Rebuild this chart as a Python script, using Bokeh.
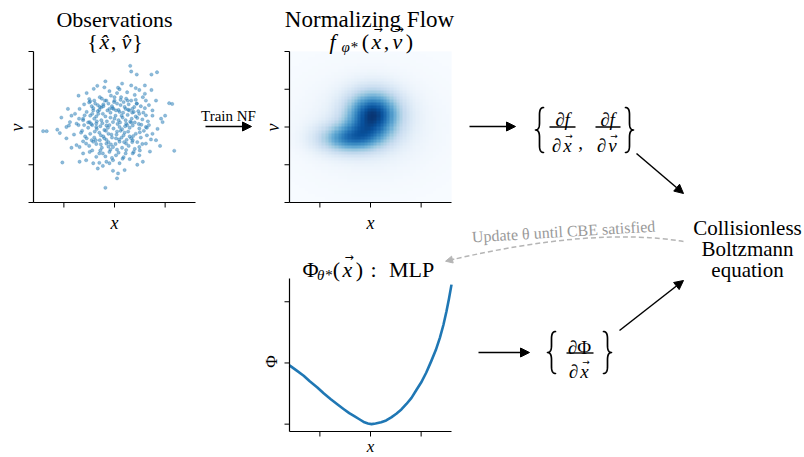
import numpy as np
from bokeh.plotting import figure
from bokeh.models import Range1d, Arrow, NormalHead, LinearColorMapper
from bokeh.palettes import Blues256
from bokeh.core.properties import value
from bokeh.embed import file_html
from bokeh.resources import INLINE

# ---------------- data ----------------
obs_x = [0.31, 0.33, 0.44, 0.84, 0.73, -0.18, -0.34, -0.41, 0.07, 0.10, 0.33, 0.42, 0.49, 0.73,
         -0.71, -0.50, -0.48, -0.29, -0.16, -0.07, 0.00, 0.13, 0.23, 0.33, 0.56, 0.62, 0.82, 1.08, 1.14,
         -0.92, -0.69, -0.78, -0.59, -0.42, -0.29, -0.23, -0.10, 0.03, 0.20, 0.29, 0.39, 0.49, 0.62, 0.75,
         0.92, 0.95, -1.41, -1.34, -1.13, -1.08, -0.95, -0.88, -0.75, -0.62, -0.49, -0.36, -0.26, -0.16,
         -0.03, 0.10, 0.23, 0.36, 0.49, 0.62, 0.75, 0.82, 0.72, -0.75, -0.69, -0.56, -0.42, -0.29, -0.16,
         -0.03, 0.10, 0.23, 0.36, 0.49, 0.62, -0.62, -0.49, -0.36, -0.23, -0.10, 0.03, 0.23, 0.36, 0.49,
         0.56, -0.69, -0.56, -0.42, -0.16, -0.03, 0.10, 1.18, -1.03, -0.33, -0.23, -0.10, 0.07, 0.20,
         -0.03, 0.05, -0.18, -0.90,
         -0.45, -0.38, -0.30, -0.22, -0.12, -0.05, 0.05, 0.12, 0.18, 0.28, 0.35, 0.44, 0.52, 0.60,
         -0.55, -0.48, -0.40, -0.32, -0.18, -0.08, 0.02, 0.10, 0.16, 0.26, 0.34, 0.42, 0.55, 0.66,
         -0.70, -0.60, -0.52, -0.44, -0.35, -0.28, -0.20, -0.10, -0.02, 0.06, 0.15, 0.22, 0.30, 0.40,
         0.48, 0.58, 0.68, -0.80, -0.66, -0.58, -0.48, -0.40, -0.30, -0.22, -0.12, -0.05, 0.04, 0.14,
         0.20, 0.30, 0.42, 0.52, 0.64, -0.62, -0.50, -0.36, -0.25, -0.12, -0.08, 0.02, 0.15, 0.28,
         0.40, 0.55, -0.44, -0.30, -0.18, 0.08, 0.18, 0.30, -0.52, -0.15, 0.08, 0.35, -0.25, 0.05,
         0.25, -0.10, 0.40, 0.60, -0.60, -0.85, 0.75, 0.85, 0.90, -0.95, -0.85, 0.70, 0.45, -0.30,
         0.15, -0.20, 0.60, -0.55, 1.00, -1.05, -0.40, 0.00, -0.02, 0.22, -0.35, 0.12, -0.45, 0.35,
         -0.20, 0.25,
         -0.42, -0.33, -0.26, -0.14, -0.04, 0.08, 0.17, 0.27, 0.38, 0.47, -0.46, -0.36, -0.24, -0.13,
         0.00, 0.11, 0.21, 0.31, 0.45, 0.53, -0.39, -0.27, -0.17, -0.06, 0.05, 0.18, 0.27, 0.37, 0.50,
         -0.55, -0.37, -0.27, -0.16, -0.07, 0.09, 0.19, 0.33, 0.45, -0.50, -0.33, -0.19, -0.01, 0.12,
         0.26, 0.42, -0.28, -0.12, 0.05, 0.22, 0.38, -0.62, -0.44, 0.57, 0.64, -0.08, 0.14, 0.33, -0.36,
         0.03, 0.24, -0.22, 0.44, -0.64, -0.71, 0.50, 0.68, -0.05, 0.16]
obs_y = [1.62, 1.47, 1.39, 1.45, 1.39, 1.21, 1.09, 1.01, 1.04, 1.00, 1.10, 1.03, 0.98, 0.98,
         0.83, 0.74, 0.68, 0.79, 0.70, 0.83, 0.79, 0.79, 0.75, 0.70, 0.79, 0.70, 0.70, 0.63, 0.61,
         0.48, 0.48, 0.35, 0.31, 0.44, 0.53, 0.35, 0.48, 0.44, 0.53, 0.44, 0.53, 0.35, 0.31, 0.44,
         0.22, 0.13, -0.11, -0.11, -0.07, -0.16, 0.00, 0.13, 0.09, 0.18, 0.13, 0.09, 0.18, 0.04,
         0.13, 0.00, 0.09, 0.04, -0.04, 0.00, -0.18, -0.35, -0.33, -0.48, -0.53, -0.44, -0.39, -0.35, -0.44,
         -0.53, -0.39, -0.44, -0.35, -0.53, -0.44, -0.70, -0.66, -0.79, -0.70, -0.66, -0.75, -0.61, -0.70, -0.75,
         -0.92, -0.92, -0.88, -0.96, -0.92, -0.88, -0.96, -0.63, -0.94, -1.10, -1.03, -0.96, -1.23, -1.14,
         -1.16, -1.36, -1.61, 0.04,
         0.55, 0.62, 0.45, 0.60, 0.62, 0.55, 0.62, 0.58, 0.66, 0.60, 0.48, 0.62, 0.55, 0.50,
         0.40, 0.30, 0.22, 0.35, 0.28, 0.38, 0.30, 0.40, 0.25, 0.32, 0.22, 0.28, 0.20, 0.15,
         0.22, 0.05, -0.02, 0.05, -0.05, 0.02, -0.08, 0.05, -0.04, 0.08, -0.06, 0.18, -0.02, 0.12,
         0.08, -0.10, 0.05, -0.20, -0.15, -0.25, -0.18, -0.28, -0.15, -0.25, -0.18, -0.28, -0.20, -0.28,
         -0.15, -0.25, -0.18, -0.28, -0.22, -0.38, -0.50, -0.45, -0.55, -0.40, -0.60, -0.45, -0.55, -0.50,
         -0.58, -0.45, -0.62, -0.70, -0.78, -0.68, -0.80, -0.85, 0.12, 0.15, 0.18, 0.38, 0.75, 0.90,
         0.92, 0.95, 0.85, 0.88, 0.60, 0.30, 0.30, -0.05, -0.50, -0.30, -0.55, -0.65, -1.00, -0.95,
         1.15, 1.05, 1.10, 0.90, 0.30, 0.25, 0.70, 0.70, 0.48, 0.48, 0.15, -0.10, -0.35, -0.40,
         -0.30, 0.05,
         0.50, 0.42, 0.52, 0.44, 0.50, 0.45, 0.38, 0.46, 0.40, 0.42, 0.08, 0.00, 0.10, -0.02,
         0.22, 0.12, 0.02, 0.14, 0.24, 0.06, -0.12, -0.22, -0.10, -0.20, -0.12, -0.22, -0.12, -0.24, -0.14,
         -0.30, -0.35, -0.46, -0.34, -0.46, -0.33, -0.40, -0.30, -0.40, 0.65, 0.58, 0.70, 0.66, 0.72,
         0.70, 0.72, -0.62, -0.52, -0.60, -0.70, -0.66, 0.22, 0.35, 0.38, -0.02, 0.25, 0.30, 0.12, 0.28,
         -0.30, -0.34, 0.55, 0.62, -0.10, 0.05, -0.62, 0.58, -0.82, -0.84]

# normalizing-flow density: two blobs plus a faint halo
blob_cx = [0.05, -0.42, 0.0]
blob_cy = [0.33, -0.30, 0.05]
blob_sx = [0.36, 0.42, 0.85]
blob_sy = [0.42, 0.26, 0.85]
blob_w = [1.00, 0.68, 0.12]

phi_x = [-1.60, -1.45, -1.32, -1.20, -1.05, -0.92, -0.79, -0.65, -0.52, -0.42, -0.32, -0.22, -0.12, -0.05,
         0.02, 0.10, 0.21, 0.31, 0.41, 0.51, 0.61, 0.71, 0.81, 0.90, 1.00, 1.10, 1.20, 1.29, 1.37, 1.44,
         1.50, 1.55, 1.60]
phi_y = [0.96, 0.87, 0.79, 0.70, 0.60, 0.50, 0.41, 0.32, 0.24, 0.18, 0.13, 0.08, 0.03, 0.01,
         0.00, 0.01, 0.03, 0.06, 0.11, 0.17, 0.24, 0.33, 0.43, 0.55, 0.68, 0.84, 1.03, 1.21, 1.41, 1.62,
         1.84, 2.05, 2.28]

x_ticks = [-1, 0, 1]
v_ticks = [-2, -1, 0, 1, 2]
phi_ticks = [0, 1, 2]
x_lim = (-1.6, 1.6)
v_lim = (-2.0, 2.0)
phi_lim = (-0.12, 2.38)

# ---------------- canvas ----------------
W, H = 804, 457
X0, X1 = 0, W
Y0, Y1 = 0, H
LIB = "Liberation Serif"

p = figure(width=W, height=H, x_range=Range1d(X0, X1), y_range=Range1d(Y1, Y0),
           output_backend="svg", toolbar_location=None,
           x_axis_location=None, y_axis_location=None, min_border=0)
p.grid.visible = False
p.outline_line_color = None
p.background_fill_color = "white"
p.border_fill_color = "white"

xr, yr, scale = {}, {}, {}


def panel(name, box, xlim, ylim):
    left, top, right, bottom = box
    kx = (xlim[1] - xlim[0]) / (right - left)
    ky = (ylim[1] - ylim[0]) / (top - bottom)
    xr[name] = Range1d(xlim[0] + (X0 - left) * kx, xlim[0] + (X1 - left) * kx)
    yr[name] = Range1d(ylim[0] + (Y1 - bottom) * ky, ylim[0] + (Y0 - bottom) * ky)
    scale[name] = (kx, -ky)


panel("obs", (33, 51, 195, 202), x_lim, v_lim)
panel("nf", (289, 51, 451, 202), x_lim, v_lim)
panel("mlp", (289, 278, 451, 431), x_lim, phi_lim)
p.extra_x_ranges = xr
p.extra_y_ranges = yr


def spines(name, xlim, ylim, xt, yt):
    kx, ky = scale[name]
    kw = dict(x_range_name=name, y_range_name=name, line_color="black")
    p.segment(x0=[xlim[0], xlim[0]], y0=[ylim[0], ylim[0]], x1=[xlim[0], xlim[1]], y1=[ylim[1], ylim[0]],
              line_width=1.2, **kw)
    p.segment(x0=xt, y0=[ylim[0]] * len(xt), x1=xt, y1=[ylim[0] - 5 * ky] * len(xt), line_width=1, **kw)
    p.segment(x0=[xlim[0]] * len(yt), y0=yt, x1=[xlim[0] - 5 * kx] * len(yt), y1=yt, line_width=1, **kw)


def txt(x, y, s, size=22, italic=False, color="black", align="center", baseline="alphabetic",
        angle=0.0, font=LIB):
    p.text(x=[x], y=[y], text=[s], text_font=value(font), text_font_size=value(f"{size}px"),
           text_font_style="italic" if italic else "normal", text_color=color,
           text_align=align, text_baseline=baseline, angle=angle)


def vec(x, y, s, size=22, lift=0.58):
    # italic letter with a small arrow accent above it
    txt(x, y, s, size=size, italic=True)
    txt(x + 1.5, y - lift * size, "\u2192", size=int(size * 0.5), baseline="middle", font="DejaVu Sans")


def arrow(x0, y0, x1, y1, color="black", size=9, lw=1.5):
    p.add_layout(Arrow(end=NormalHead(size=size, fill_color=color, line_color=color, line_width=1),
                       x_start=x0, y_start=y0, x_end=x1, y_end=y1, line_color=color, line_width=lw))


def brace(xc, ytop, ybot, w=8, left=True, lw=1.7):
    s = 1 if left else -1
    ym = (ytop + ybot) / 2
    r = min(w * 0.9, (ybot - ytop) * 0.18)
    t = np.linspace(0, 1, 12)

    def q(a, c, b):
        return ((1 - t) ** 2)[:, None] * np.array(a) + (2 * (1 - t) * t)[:, None] * np.array(c) + (t ** 2)[:, None] * np.array(b)

    segs = [
        q((xc + s * w / 2, ytop), (xc, ytop), (xc, ytop + r)),
        q((xc, ym - r), (xc, ym), (xc - s * w / 2, ym)),
        q((xc - s * w / 2, ym), (xc, ym), (xc, ym + r)),
        q((xc, ybot - r), (xc, ybot), (xc + s * w / 2, ybot)),
    ]
    pts = np.vstack(segs)
    p.line(pts[:, 0], pts[:, 1], line_color="black", line_width=lw, line_join="round", line_cap="round")


# ---------------- panel 1: observations ----------------
p.scatter(obs_x, obs_y, size=3.3, fill_color="#1f77b4", fill_alpha=0.5, line_color="#1f77b4",
          line_alpha=0.5, line_width=0.5, x_range_name="obs", y_range_name="obs")
spines("obs", x_lim, v_lim, x_ticks, v_ticks)

# ---------------- panel 2: normalizing flow ----------------
n = 50
gx = np.linspace(x_lim[0], x_lim[1], n)
gy = np.linspace(v_lim[0], v_lim[1], n)
GX, GY = np.meshgrid(gx, gy)
dens = np.zeros_like(GX)
for cx, cy, sx, sy, w in zip(blob_cx, blob_cy, blob_sx, blob_sy, blob_w):
    dens += w * np.exp(-0.5 * ((GX - cx) / sx) ** 2 - 0.5 * ((GY - cy) / sy) ** 2)
mapper = LinearColorMapper(palette=list(Blues256)[::-1], low=0, high=float(dens.max()) * 1.02)
p.image(image=[dens], x=x_lim[0], y=v_lim[0], dw=x_lim[1] - x_lim[0], dh=v_lim[1] - v_lim[0],
        color_mapper=mapper, x_range_name="nf", y_range_name="nf")
spines("nf", x_lim, v_lim, x_ticks, v_ticks)

# ---------------- panel 3: MLP potential ----------------
p.line(phi_x, phi_y, line_color="#1f77b4", line_width=2.6, line_join="round",
       x_range_name="mlp", y_range_name="mlp")
spines("mlp", x_lim, phi_lim, x_ticks, phi_ticks)

# ---------------- titles & labels ----------------
txt(114, 19, "Observations")
txt(92, 41, "{")
txt(104, 41, "x\u0302", italic=True)
txt(113, 41, ",")
txt(126, 41, "v\u0302", italic=True)
txt(137, 41, "}")

txt(369, 19, "Normalizing Flow", size=23)
txt(332, 41, "f", italic=True)
txt(349, 46, "\u03c6*", size=15, italic=True)
txt(365, 41, "(")
vec(376, 41, "x", lift=0.55)
txt(386, 41, ",")
vec(397, 41, "v", lift=0.55)
txt(409, 41, ")")

txt(310, 269, "\u03a6")
txt(324, 274, "\u03b8*", size=15, italic=True)
txt(336, 269, "(")
vec(347, 269, "x", lift=0.55)
txt(359, 269, ")")
txt(373, 269, ":")
txt(411, 269, "MLP")

txt(114, 222, "x", size=18, italic=True)
txt(370, 222, "x", size=18, italic=True)
txt(370, 446, "x", size=17, italic=True)
txt(16, 127, "v", size=18, italic=True, baseline="middle", angle=np.pi / 2)
txt(272, 127, "v", size=18, italic=True, baseline="middle", angle=np.pi / 2)
txt(271, 361, "\u03a6", size=17, baseline="middle", angle=np.pi / 2)

# ---------------- flow arrows ----------------
txt(228, 115, "Train NF", size=15)
arrow(205, 126, 251, 126)
arrow(469, 126, 515, 126)
arrow(478, 352, 529, 352)
arrow(636, 153, 683, 193)
arrow(619, 330, 683, 280)

# derivative sets
brace(539, 107, 152, left=True)
brace(629, 107, 152, left=False)
txt(562, 119, "\u2202f", size=19, italic=True)
p.segment(x0=[549, 595], y0=[126.5, 126.5], x1=[575, 620], y1=[126.5, 126.5], line_color="black", line_width=1.4)
txt(556, 145, "\u2202", size=19, italic=True)
vec(567, 145, "x", size=19, lift=0.52)
txt(580, 142, ",", size=19)
txt(607, 119, "\u2202f", size=19, italic=True)
txt(601, 145, "\u2202", size=19, italic=True)
vec(612, 145, "v", size=19, lift=0.52)

brace(551, 331, 373, left=True)
brace(607, 331, 373, left=False)
txt(579, 347, "\u2202\u03a6", size=19)
p.segment(x0=[566], y0=[352.5], x1=[593], y1=[352.5], line_color="black", line_width=1.4)
txt(573, 371, "\u2202", size=19, italic=True)
vec(584, 371, "x", size=19, lift=0.52)

# Boltzmann equation
txt(747, 227, "Collisionless", size=21)
txt(747, 248, "Boltzmann", size=21)
txt(747, 269, "equation", size=21)

# update loop (dashed curve)
qx0, qy0, qcx, qcy, qx1, qy1 = 683, 241, 592, 226, 448, 260
p.quadratic(x0=[qx0], y0=[qy0], x1=[qx1], y1=[qy1], cx=[qcx], cy=[qcy],
            line_color="#b5b5b5", line_width=1.5, line_dash="5 3")
dx, dy = qx1 - qcx, qy1 - qcy
L = np.hypot(dx, dy)
arrow(qx1 - 6 * dx / L, qy1 - 6 * dy / L, qx1 + 3 * dx / L, qy1 + 3 * dy / L, color="#b5b5b5", size=7, lw=1.2)
txt(563, 231, "Update \u03b8 until CBE satisfied", size=16, color="#9a9a9a", angle=0.06)

open("out.html", "w").write(file_html(p, INLINE))
